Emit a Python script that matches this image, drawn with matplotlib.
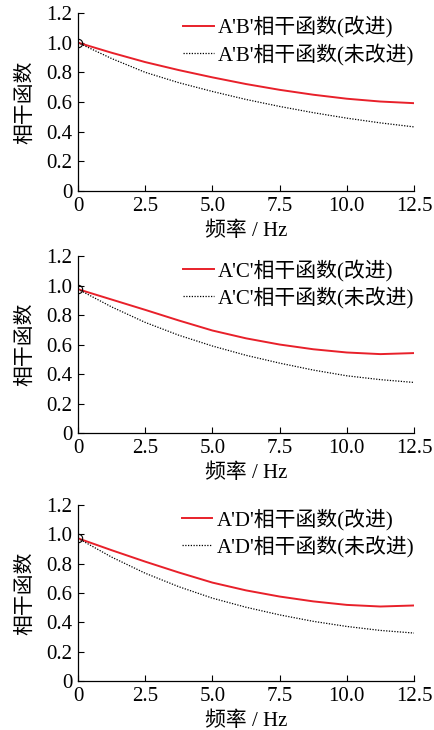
import numpy as np
import matplotlib
matplotlib.use("Agg")
import matplotlib.pyplot as plt

plt.rcParams['font.family'] = ['Liberation Serif', 'Noto Sans CJK SC']
plt.rcParams['axes.unicode_minus'] = False

# --- data ---
freq = [0, 1.25, 2.5, 3.75, 5.0, 6.25, 7.5, 8.75, 10.0, 11.25, 12.5]

ab_improved = [1.000, 0.932, 0.869, 0.815, 0.766, 0.721, 0.682, 0.649, 0.622, 0.603, 0.592]
ab_original = [1.000, 0.893, 0.800, 0.730, 0.671, 0.617, 0.570, 0.528, 0.491, 0.459, 0.432]

ac_improved = [0.975, 0.905, 0.835, 0.763, 0.695, 0.642, 0.600, 0.568, 0.546, 0.535, 0.542]
ac_original = [0.975, 0.855, 0.750, 0.663, 0.590, 0.527, 0.474, 0.427, 0.388, 0.362, 0.343]

ad_improved = [0.973, 0.892, 0.814, 0.740, 0.671, 0.618, 0.576, 0.543, 0.519, 0.508, 0.515]
ad_original = [0.973, 0.845, 0.735, 0.643, 0.565, 0.503, 0.451, 0.407, 0.372, 0.345, 0.327]

pairs = ["A'B'", "A'C'", "A'D'"]
improved = [ab_improved, ac_improved, ad_improved]
original = [ab_original, ac_original, ad_original]

xticks = [0, 2.5, 5.0, 7.5, 10.0, 12.5]
xticklabels = ['0', '2.5', '5.0', '7.5', '10.0', '12.5']
yticks = [0, 0.2, 0.4, 0.6, 0.8, 1.0, 1.2]
yticklabels = ['0', '0.2', '0.4', '0.6', '0.8', '1.0', '1.2']

# --- figure ---
fig = plt.figure(figsize=(4.35, 7.3), dpi=100)
# axes boxes in figure fraction (left, bottom, width, height)
boxes = [
    (0.1793, 0.7384, 0.7724, 0.2438),
    (0.1793, 0.4068, 0.7724, 0.2425),
    (0.1793, 0.0671, 0.7724, 0.2411),
]

fs = 15
for box, name, imp, orig in zip(boxes, pairs, improved, original):
    ax = fig.add_axes(box)
    ax.plot(freq, imp, color='#e8202a', lw=1.4, label=name + '相干函数(改进)')
    ax.plot(freq, orig, color='black', lw=0.9, ls=(0, (1, 1.2)),
            label=name + '相干函数(未改进)')
    ax.plot([freq[0]], [imp[0]], marker='o', ms=6, mfc='none', mec='black',
            mew=0.8, ls='none')

    ax.set_xlim(0, 12.5)
    ax.set_ylim(0, 1.2)
    ax.set_xticks(xticks)
    ax.set_xticklabels(xticklabels)
    ax.set_yticks(yticks)
    ax.set_yticklabels(yticklabels)
    ax.tick_params(direction='in', length=4, width=0.8, labelsize=fs)
    ax.tick_params(axis='x', pad=4)
    ax.tick_params(axis='y', pad=4)
    for s in ['top', 'right']:
        ax.spines[s].set_visible(False)
    for s in ['left', 'bottom']:
        ax.spines[s].set_linewidth(0.9)

    ax.set_xlabel('频率 / Hz', fontsize=fs, labelpad=4)
    ax.set_ylabel('相干函数', fontsize=fs, labelpad=8)

    ax.legend(loc='upper right', frameon=False, fontsize=fs,
              handlelength=1.45, handletextpad=0.2, labelspacing=0.25,
              borderaxespad=0.0, bbox_to_anchor=(1.025, 1.03))

fig.savefig('out.png', dpi=100)
